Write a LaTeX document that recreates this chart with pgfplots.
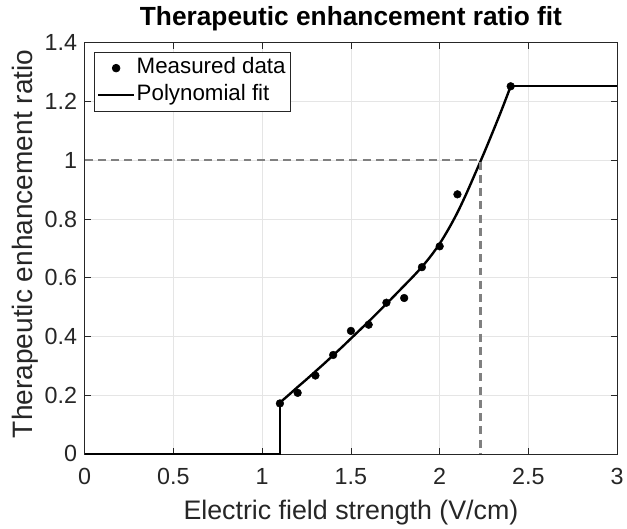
\documentclass[border=0pt]{standalone}
\usepackage{pgfplots}
\pgfplotsset{compat=1.18}
\usepackage{fontspec}
\setmainfont{Liberation Sans}
\definecolor{axgray}{gray}{0.15}
\definecolor{gridgray}{gray}{0.9}
\definecolor{dashgray}{gray}{0.5}
\pgfplotsset{
    markleg/.style={legend image code/.code={\draw[##1, mark repeat=2, mark phase=2]
        plot coordinates {(0bp,0bp) (18bp,0bp) (36bp,0bp)};}},
    lineleg/.style={legend image code/.code={\draw[##1] (0bp,0bp) -- (36bp,0bp);}},
}
\begin{document}
\begin{tikzpicture}
\begin{axis}[
    name=main,
    scale only axis,
    width=535bp, height=413bp,
    xmin=0, xmax=3, ymin=0, ymax=1.4,
    clip=false,
    xtick={0,0.5,...,3}, ytick={0,0.2,...,1.4},
    xticklabels={0,0.5,1,1.5,2,2.5,3},
    yticklabels={0,0.2,0.4,0.6,0.8,1,1.2,1.4},
    /pgf/number format/assume math mode=true,
    tick label style={font=\fontsize{23.5}{26}\selectfont, text=axgray},
    xticklabel style={anchor=base, yshift=-30.7bp},
    yticklabel style={xshift=-4bp},
    xlabel={Electric field strength (V/cm)},
    ylabel={Therapeutic enhancement ratio},
    xlabel style={font=\fontsize{27}{30}\selectfont, text=axgray,
        at={(axis description cs:0.5,-0.159)}, anchor=base},
    ylabel style={font=\fontsize{28.3}{31}\selectfont, text=axgray,
        at={(axis description cs:-0.0981,0.511)}, anchor=base},
    title={Therapeutic enhancement ratio fit},
    title style={font=\fontsize{26.5}{30}\selectfont\bfseries,
        at={(axis description cs:0.5,1.0266)}, anchor=base},
    grid=major,
    major grid style={gridgray, line width=0.7bp},
    axis line style={axgray, line width=0.7bp},
    tick style={axgray, line width=0.7bp},
    tick align=inside,
    major tick length=6bp,
    legend style={at={(0.017,0.978)}, anchor=north west,
        font=\fontsize{22.5}{25}\selectfont, draw=axgray, line width=0.7bp,
        inner xsep=3bp, inner ysep=4bp, row sep=3bp,
        nodes={inner sep=1.5bp, text height=16bp, text depth=5bp}},
    legend cell align=left,
]
\addplot[only marks, mark=*, mark size=3.9bp, black, markleg] coordinates {
    (1.1,0.172) (1.2,0.208) (1.3,0.267) (1.4,0.337) (1.5,0.419)
    (1.6,0.440) (1.7,0.515) (1.8,0.531) (1.9,0.636) (2.0,0.707)
    (2.1,0.884) (2.4,1.252)
};
\addlegendentry{Measured data}
\addplot[black, line width=2.4bp, smooth, lineleg] coordinates {
    (1.10,0.175) (1.15,0.201) (1.20,0.228) (1.25,0.254) (1.30,0.281)
    (1.35,0.308) (1.40,0.336) (1.45,0.364) (1.50,0.393) (1.55,0.422)
    (1.60,0.451) (1.65,0.481) (1.70,0.511) (1.75,0.542) (1.80,0.573)
    (1.85,0.604) (1.90,0.637) (1.95,0.674) (2.00,0.716) (2.05,0.766)
    (2.10,0.822) (2.15,0.886) (2.20,0.955) (2.25,1.025) (2.30,1.098)
    (2.35,1.173) (2.40,1.252)
};
\addlegendentry{Polynomial fit}
\addplot[black, line width=2.4bp, forget plot] coordinates {
    (0,0) (1.1,0) (1.1,0.175)
};
\addplot[black, line width=2.4bp, forget plot] coordinates {
    (2.4,1.252) (3,1.252)
};
\addplot[dashgray, line width=2.4bp, dash pattern=on 8bp off 5.3bp, forget plot] coordinates {
    (0,1) (2.23,1) (2.23,0)
};
\end{axis}
\path (main.south west) ++(-85bp,-71bp);
\path (main.north east) ++(7bp,43bp);
\end{tikzpicture}
\end{document}
